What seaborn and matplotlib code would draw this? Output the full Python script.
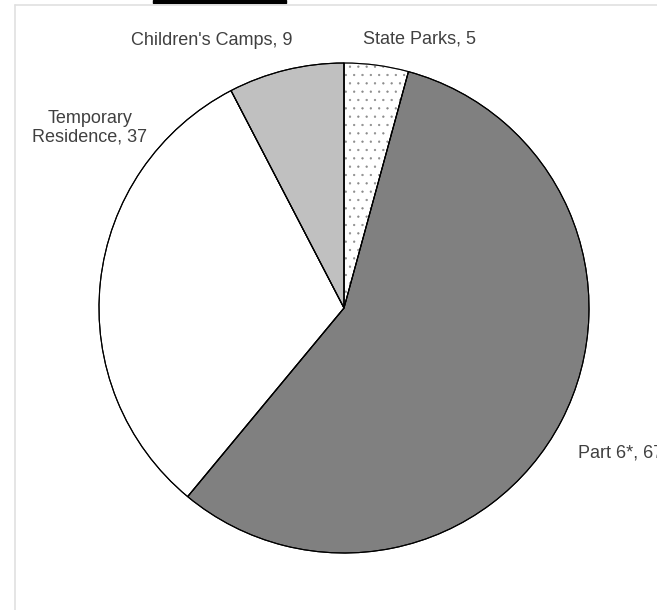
import matplotlib
matplotlib.use('Agg')
import matplotlib.pyplot as plt
import seaborn as sns
from matplotlib.lines import Line2D
from matplotlib.patches import Rectangle

categories = ['State Parks', 'Part 6*', 'Temporary\nResidence', "Children's Camps"]
counts = [5, 67, 37, 9]
colors = ['white', '#808080', 'white', '#c0c0c0']
hatches = ['..', '', '', '']

sns.set_style("white")
plt.rcParams['font.family'] = ['Liberation Sans', 'DejaVu Sans']
plt.rcParams['hatch.linewidth'] = 0.4

W, H = 657, 610
fig = plt.figure(figsize=(W / 100, H / 100), dpi=100)

# pie centre (344, 308) px, radius 245 px
cx, cy, r = 344, 308, 245
ax = fig.add_axes([(cx - r) / W, (H - cy - r) / H, 2 * r / W, 2 * r / H])
wedges, _ = ax.pie(counts, colors=colors, startangle=90, counterclock=False,
                   radius=1, wedgeprops=dict(edgecolor='black', linewidth=0.8))
for w, h in zip(wedges, hatches):
    if h:
        w.set_edgecolor('#8a8a8a')
        w.set_hatch(h)
# black outlines drawn over the hatched fill
ax.pie(counts, colors=['none'] * len(counts), startangle=90, counterclock=False,
       radius=1, wedgeprops=dict(edgecolor='black', linewidth=0.8, fill=False))
ax.set_xlim(-1, 1)
ax.set_ylim(-1, 1)
ax.set_aspect('equal')
ax.axis('off')

txt = dict(fontsize=13, color='#404040', clip_on=False)
ax.text(0.31, 1.10, f'{categories[0]}, {counts[0]}', ha='center', va='center', **txt)
ax.text(0.955, -0.592, f'{categories[1]}, {counts[1]}', ha='left', va='center', **txt)
ax.text(-1.037, 0.735, f'{categories[2]}, {counts[2]}', ha='center', va='center',
        multialignment='center', linespacing=1.1, **txt)
ax.text(-0.539, 1.09, f'{categories[3]}, {counts[3]}', ha='center', va='center', **txt)

# page frame and top bar
fig.add_artist(Line2D([15 / W, 15 / W], [0, 1 - 5 / H], transform=fig.transFigure,
                      color='#e0e0e0', linewidth=1.2))
fig.add_artist(Line2D([15 / W, 1], [1 - 5 / H, 1 - 5 / H], transform=fig.transFigure,
                      color='#e0e0e0', linewidth=1.2))
fig.add_artist(Rectangle((153 / W, 1 - 3 / H), 133 / W, 3 / H, transform=fig.transFigure,
                         color='black'))

fig.savefig('out.png', dpi=100)
